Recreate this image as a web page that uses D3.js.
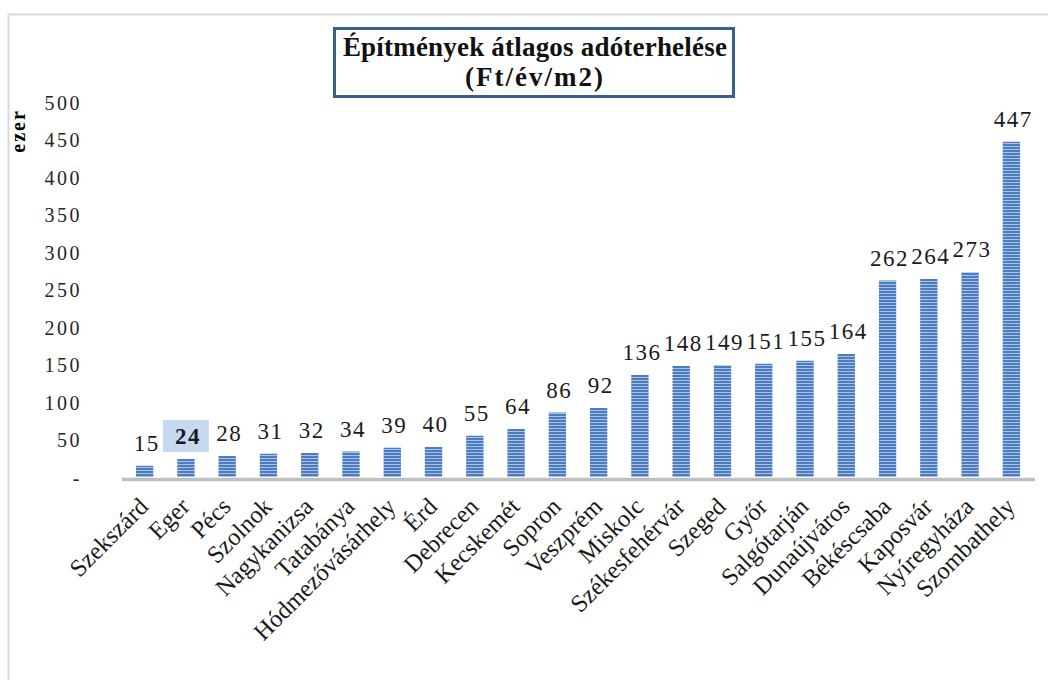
<!DOCTYPE html>
<html>
<head>
<meta charset="utf-8">
<script src="https://cdn.jsdelivr.net/npm/d3@7"></script>
<style>
    body { margin: 0; background: #fff; }
    svg { display: block; font-family: "Liberation Serif", "DejaVu Serif", serif; }
</style>
</head>
<body>
<div id="chart"></div>
<script>

// Data
var cities = ["Szekszárd", "Eger", "Pécs", "Szolnok", "Nagykanizsa", "Tatabánya",
    "Hódmezővásárhely", "Érd", "Debrecen", "Kecskemét", "Sopron", "Veszprém",
    "Miskolc", "Székesfehérvár", "Szeged", "Győr", "Salgótarján", "Dunaújváros",
    "Békéscsaba", "Kaposvár", "Nyíregyháza", "Szombathely"];
var values = [15, 24, 28, 31, 32, 34, 39, 40, 55, 64, 86, 92, 136, 148, 149, 151, 155, 164, 262, 264, 273, 447];
var yTicks = [0, 50, 100, 150, 200, 250, 300, 350, 400, 450, 500];
var titleLines = ["Építmények átlagos adóterhelése", "(Ft/év/m2)"];
var yLabel = "ezer";
var highlighted = "Eger";

var width = 1048, height = 680;

var svg = d3.select("#chart").append("svg")
    .attr("width", width)
    .attr("height", height);

// striped fill for the bars
var defs = svg.append("defs");
var pattern = defs.append("pattern")
    .attr("id", "stripes")
    .attr("patternUnits", "userSpaceOnUse")
    .attr("width", 8)
    .attr("height", 3);
pattern.append("rect").attr("width", 8).attr("height", 3).attr("fill", "#a9c1e2");
pattern.append("rect").attr("width", 8).attr("height", 2).attr("fill", "#4c7dc0");

// outer frame (left + top edges visible)
svg.append("line")
    .attr("x1", 8.5).attr("x2", 8.5).attr("y1", 14).attr("y2", height)
    .attr("stroke", "#d9d9d9").attr("stroke-width", 2);
svg.append("line")
    .attr("x1", 8).attr("x2", width).attr("y1", 14.5).attr("y2", 14.5)
    .attr("stroke", "#d9d9d9").attr("stroke-width", 2);

// scales
var x = d3.scaleBand()
    .domain(cities)
    .range([124, 1032])
    .paddingInner(0.58)
    .paddingOuter(0.29);

var y = d3.scaleLinear()
    .domain([0, 500])
    .range([477, 102]);

// y axis labels
var yAxis = d3.axisLeft(y)
    .tickValues(yTicks)
    .tickSize(0)
    .tickPadding(0)
    .tickFormat(function(d) { return d === 0 ? "-" : d; });

var yAxisG = svg.append("g")
    .attr("class", "y-axis")
    .attr("transform", "translate(82,0)")
    .call(yAxis);
yAxisG.select(".domain").remove();
yAxisG.selectAll("text")
    .attr("font-family", "Liberation Serif, serif")
    .attr("font-size", 20)
    .attr("letter-spacing", 2.5)
    .attr("fill", "#262626")
    .attr("dy", "0.36em");

// y axis title
svg.append("text")
    .attr("transform", "translate(25,131) rotate(-90)")
    .attr("text-anchor", "middle")
    .attr("font-size", 20)
    .attr("letter-spacing", 2)
    .attr("font-weight", "bold")
    .text(yLabel);

// bars
svg.selectAll(".bar")
    .data(values)
    .enter().append("rect")
    .attr("class", "bar")
    .attr("x", function(d, i) { return x(cities[i]); })
    .attr("width", x.bandwidth())
    .attr("y", function(d) { return y(d); })
    .attr("height", function(d) { return y(0) - y(d); })
    .attr("fill", "url(#stripes)");

// baseline
svg.append("line")
    .attr("x1", 122).attr("x2", 1035)
    .attr("y1", y(0) + 2.5).attr("y2", y(0) + 2.5)
    .attr("stroke", "#bfbfbf").attr("stroke-width", 3.5);

// highlight box behind selected value label
var hi = cities.indexOf(highlighted);
svg.append("rect")
    .attr("x", x(highlighted) + x.bandwidth() / 2 - 23)
    .attr("y", y(values[hi]) - 39)
    .attr("width", 46)
    .attr("height", 32)
    .attr("fill", "#c6d9f1");

// value labels
svg.selectAll(".value")
    .data(values)
    .enter().append("text")
    .attr("class", "value")
    .attr("x", function(d, i) { return x(cities[i]) + x.bandwidth() / 2 + 2; })
    .attr("y", function(d) { return y(d) - 15; })
    .attr("text-anchor", "middle")
    .attr("font-size", 23)
    .attr("letter-spacing", 1.5)
    .attr("font-weight", function(d, i) { return cities[i] === highlighted ? "bold" : "normal"; })
    .attr("fill", "#1a1a1a")
    .text(function(d) { return d; });

// category labels
svg.selectAll(".cat")
    .data(cities)
    .enter().append("text")
    .attr("class", "cat")
    .attr("transform", function(d) {
        return "translate(" + (x(d) + x.bandwidth() / 2 + 5) + ",508) rotate(-45)";
    })
    .attr("text-anchor", "end")
    .attr("font-size", 24.5)
    .attr("fill", "#1a1a1a")
    .text(function(d) { return d; });

// title box
svg.append("rect")
    .attr("x", 334.5).attr("y", 28.5)
    .attr("width", 399).attr("height", 68)
    .attr("fill", "#fff")
    .attr("stroke", "#3a5f8f")
    .attr("stroke-width", 3);

svg.selectAll(".title")
    .data(titleLines)
    .enter().append("text")
    .attr("class", "title")
    .attr("x", 535)
    .attr("y", function(d, i) { return 56 + i * 30; })
    .attr("text-anchor", "middle")
    .attr("font-size", 27)
    .attr("letter-spacing", function(d, i) { return i === 0 ? 0.2 : 2; })
    .attr("font-weight", "bold")
    .attr("fill", "#111")
    .text(function(d) { return d; });

</script>
</body>
</html>
